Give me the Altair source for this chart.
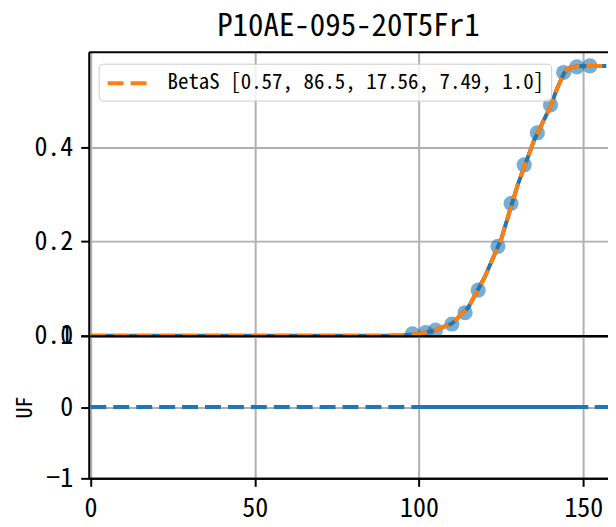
import altair as alt
import pandas as pd

chart_title = "P10AE-095-20T5Fr1"
fit_label = "BetaS [0.57, 86.5, 17.56, 7.49, 1.0]"
y_title = "UF"
x_title = "P10AE-095-20T5Fr1"

# observed points (top panel)
obs_x = [98, 102, 105, 110, 114, 118, 124, 128, 132, 136, 140, 144, 148, 152]
obs_y = [0.004, 0.007, 0.012, 0.025, 0.049, 0.097, 0.19, 0.281, 0.363, 0.431, 0.49, 0.559, 0.571, 0.573]

# fitted curve
curve_x = [0, 90, 95, 100, 105, 110, 115, 120, 125, 130, 135, 140, 142, 143, 144, 145, 146, 148, 150, 157]
curve_y = [0.0, 0.0, 0.001, 0.004, 0.012, 0.026, 0.06, 0.125, 0.205, 0.32, 0.415, 0.487, 0.525, 0.54, 0.556, 0.565, 0.57, 0.572, 0.573, 0.573]

# residual panel
resid_dash_x = [0, 160]
resid_dash_y = [0, 0]
resid_x = [101, 105, 110, 114, 118, 124, 128, 132, 136, 140, 144, 148, 151.5]
resid_y = [0, 0, 0, 0, 0, 0, 0, 0, 0, 0, 0, 0, 0]

x_ticks = [0, 50, 100, 150]
top_y_ticks = [0.0, 0.2, 0.4]
bot_y_ticks = [-1, 0, 1]

FONT = "Noto Sans Mono CJK JP, Noto Sans CJK JP, DejaVu Sans Mono"
BLUE = "#1f77b4"
ORANGE = "#ff7f0e"
GRID = "#b0b0b0"

df_obs = pd.DataFrame({"x": obs_x, "y": obs_y})
df_curve = pd.DataFrame({"x": curve_x, "y": curve_y, "series": [fit_label] * len(curve_x)})
df_rdash = pd.DataFrame({"x": resid_dash_x, "y": resid_dash_y})
df_resid = pd.DataFrame({"x": resid_x, "y": resid_y})

PLOT_W = 521
x_scale = alt.Scale(domain=[-0.5, 157.5], nice=False, zero=False)
top_y_scale = alt.Scale(domain=[0, 0.603], nice=False, zero=False)
bot_y_scale = alt.Scale(domain=[-1, 1], nice=False, zero=False)

SPINE = dict(domain=True, domainColor="black", domainWidth=2)
top_grid_color = {"condition": {"test": "datum.value === 0", "value": "black"}, "value": GRID}
bot_grid_color = {"condition": {"test": "abs(datum.value) === 1", "value": "black"}, "value": GRID}

# hidden x axis at the bottom of the top panel (grid + spine only)
x_top_axis = alt.Axis(values=x_ticks, tickCount=10, tickMinStep=0.01, labels=False, ticks=False,
                      title=None, grid=True, **SPINE)
# top spine of the top panel
x_top_spine = alt.Axis(orient="top", values=x_ticks, tickCount=10, tickMinStep=0.01, labels=False,
                       ticks=False, title=None, grid=False, **SPINE)
y_top_axis = alt.Axis(values=top_y_ticks, tickCount=10, tickMinStep=0.01, format=".1f", title=None,
                      grid=True, gridColor=top_grid_color, labelOverlap=False,
                      minExtent=46, maxExtent=46, **SPINE)
x_bot_axis = alt.Axis(values=x_ticks, tickCount=10, tickMinStep=0.01, format=".0f", title=x_title,
                      grid=True, titlePadding=6, labelOverlap=False, labelPadding=9, **SPINE)
y_bot_axis = alt.Axis(values=bot_y_ticks, tickCount=10, tickMinStep=0.01, format=".0f", title=y_title,
                      grid=True, gridColor=bot_grid_color, labelOverlap=False, titlePadding=6,
                      minExtent=46, maxExtent=46, **SPINE)

Y_top = alt.Y("y:Q", scale=top_y_scale, axis=y_top_axis)

points = alt.Chart(df_obs).mark_circle(size=232, color=BLUE, opacity=0.6, clip=True).encode(
    x=alt.X("x:Q", scale=x_scale, axis=x_top_axis), y=Y_top)
blue_line = alt.Chart(df_curve).mark_line(color=BLUE, strokeWidth=4, clip=True).encode(
    x=alt.X("x:Q", scale=x_scale, axis=x_top_spine), y=Y_top)
orange_line = alt.Chart(df_curve).mark_line(strokeWidth=4, strokeDash=[16, 7], clip=True).encode(
    x=alt.X("x:Q", scale=x_scale, axis=None), y=Y_top,
    color=alt.Color("series:N", scale=alt.Scale(domain=[fit_label], range=[ORANGE]),
                    legend=alt.Legend(title=None, orient="none", legendX=10, legendY=12,
                                      symbolType="M-1,0H3", symbolSize=441, symbolStrokeWidth=4,
                                      symbolDash=[16, 7], labelFont=FONT, labelFontSize=21,
                                      labelColor="black", labelLimit=700, labelOffset=37,
                                      padding=7, fillColor="rgba(255,255,255,0.8)",
                                      strokeColor="#cccccc", cornerRadius=4)),
)

top = alt.layer(points, blue_line, orange_line).resolve_axis(x="independent").properties(
    width=PLOT_W, height=285,
    title=alt.TitleParams(chart_title, font=FONT, fontSize=31, fontWeight="normal",
                          color="black", anchor="middle", frame="group", offset=9),
)

X_bot = alt.X("x:Q", scale=x_scale, axis=x_bot_axis)
Y_bot = alt.Y("y:Q", scale=bot_y_scale, axis=y_bot_axis)

rdash = alt.Chart(df_rdash).mark_line(color=BLUE, strokeWidth=4, strokeDash=[16, 7], clip=True).encode(x=X_bot, y=Y_bot)
rsolid = alt.Chart(df_resid).mark_line(color=BLUE, strokeWidth=4, clip=True).encode(x=X_bot, y=Y_bot)

bottom = alt.layer(rdash, rsolid).properties(width=PLOT_W, height=143)

chart = alt.vconcat(top, bottom, spacing=0, bounds="flush").properties(
    padding={"left": 6, "top": 2, "right": 0, "bottom": 0}
).configure_view(
    strokeWidth=0
).configure_axis(
    domain=False, tickColor="black", tickWidth=2, tickSize=8,
    labelFont=FONT, labelFontSize=26, labelColor="black", labelPadding=8,
    gridColor=GRID, gridWidth=2,
    titleFont=FONT, titleFontSize=22, titleColor="black", titleFontWeight="normal",
)

chart.save("out.html", embed_options={"renderer": "svg", "actions": False})
